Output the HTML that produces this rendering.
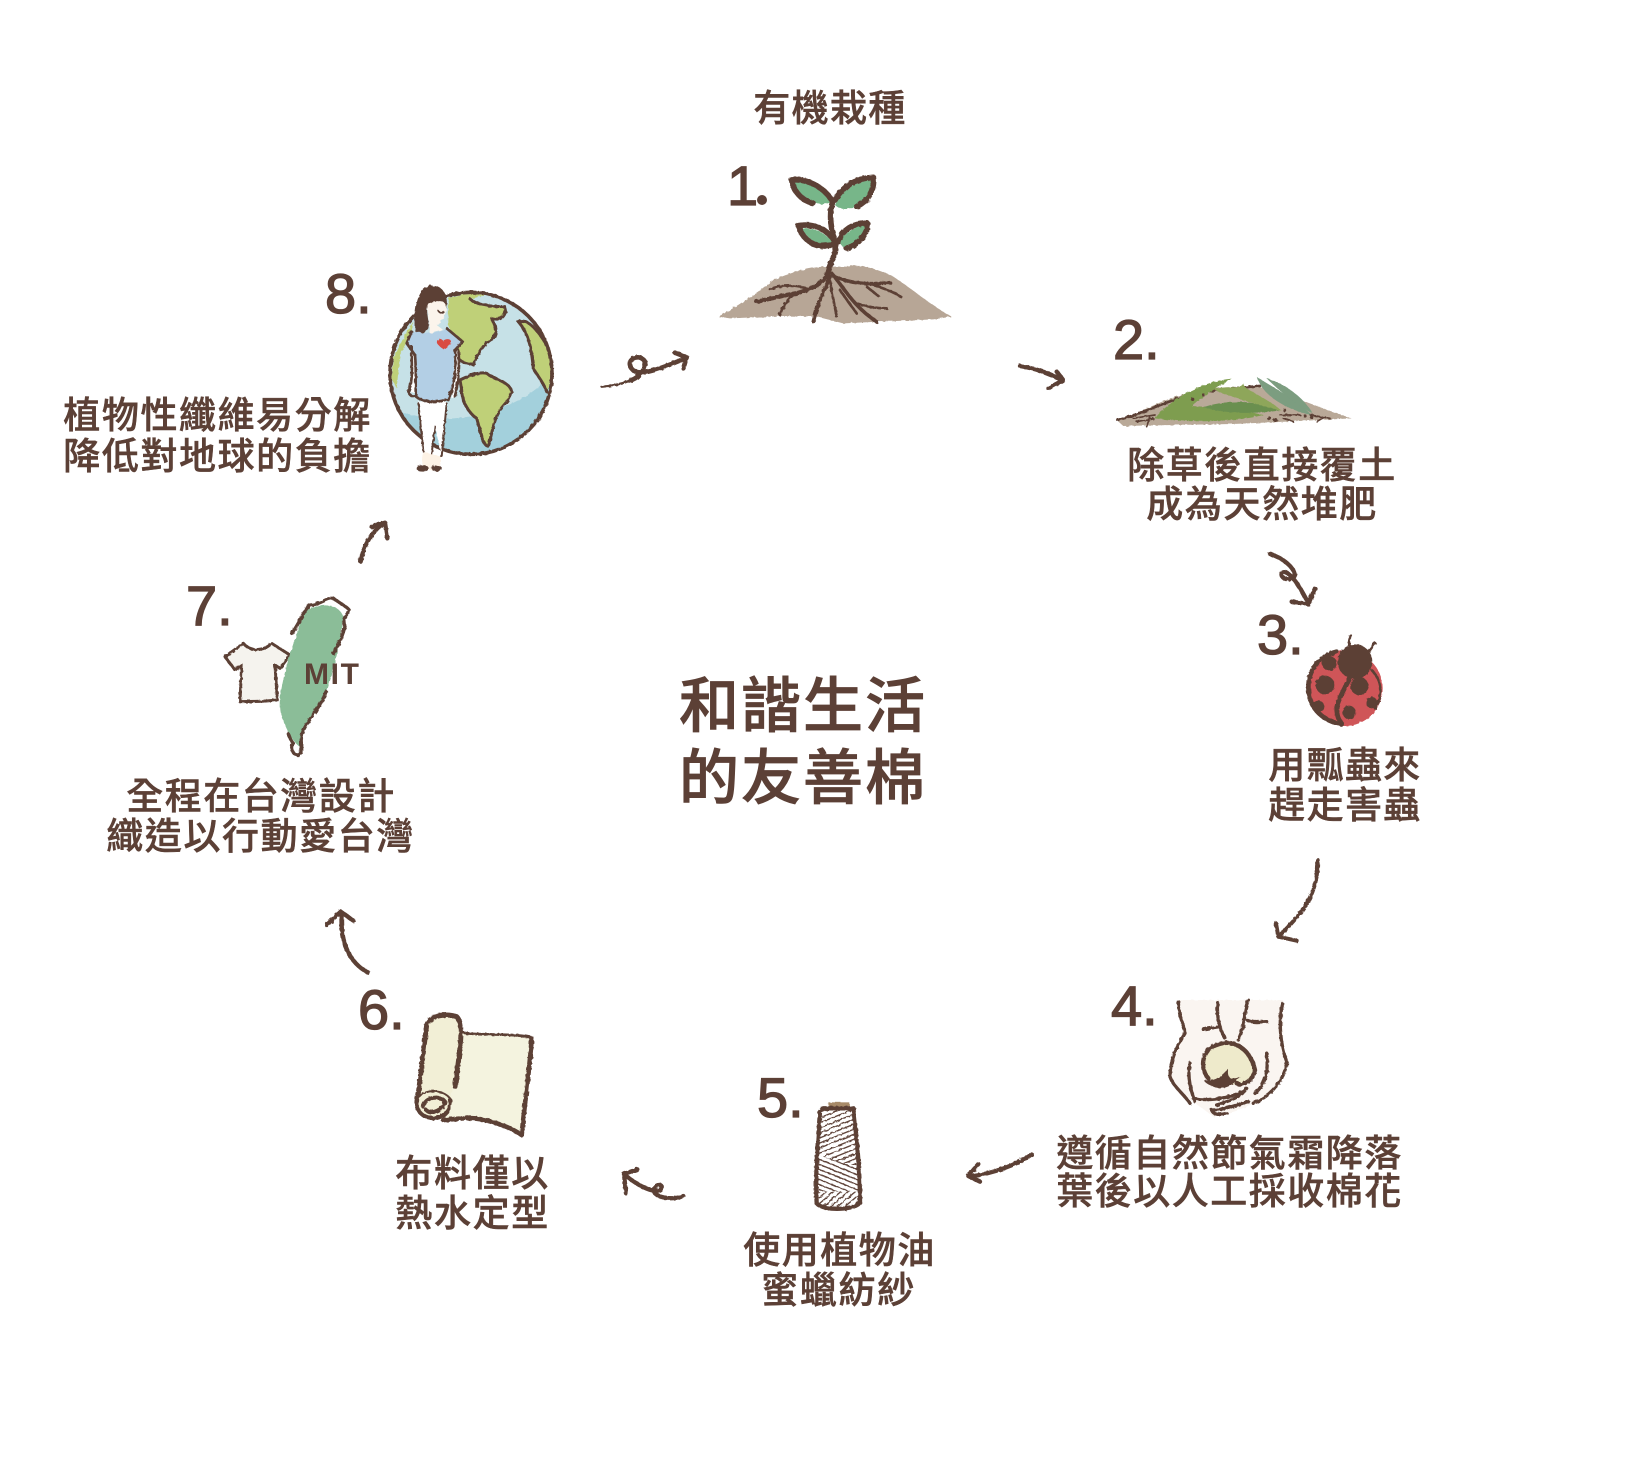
<!DOCTYPE html>
<html lang="zh-Hant"><head><meta charset="utf-8"><title>和諧生活的友善棉</title>
<style>
html,body{margin:0;padding:0;background:#fff;width:1641px;height:1467px;overflow:hidden}
svg{display:block}
.t{font-family:"Liberation Sans","Noto Sans CJK TC",sans-serif;font-weight:500;font-size:37px;fill:#5c4036;stroke:#5c4036;stroke-width:.5px}
.c{font-size:60px;stroke-width:.8px}
.n{font-family:"Liberation Sans",sans-serif;font-size:56px;fill:#5c4036;stroke:#5c4036;stroke-width:1.3px}
.s{fill:none;stroke:#5c4036;stroke-linecap:round;stroke-linejoin:round}
</style></head><body>
<svg width="1641" height="1467" viewBox="0 0 1641 1467" xmlns="http://www.w3.org/2000/svg">
<defs>
<filter id="r" x="-15%" y="-15%" width="130%" height="130%"><feTurbulence type="fractalNoise" baseFrequency="0.09" numOctaves="2" seed="4"/><feDisplacementMap in="SourceGraphic" scale="8"/></filter>
<pattern id="p1" width="14" height="14" patternUnits="userSpaceOnUse" patternTransform="rotate(-22)"><rect width="14" height="4" fill="#5c4036"/></pattern>
<pattern id="p2" width="14" height="14" patternUnits="userSpaceOnUse" patternTransform="rotate(22)"><rect width="14" height="4" fill="#5c4036"/></pattern>
<pattern id="p3" width="14" height="14" patternUnits="userSpaceOnUse" patternTransform="rotate(-40)"><rect width="14" height="4" fill="#5c4036"/></pattern>
<clipPath id="sp"><path d="M670,115 L760,115 C770,200 780,300 780,395 C775,420 670,425 650,400 C645,300 655,200 660,125Z"/></clipPath>
<clipPath id="ea"><circle cx="273" cy="295" r="243"/></clipPath>
</defs>
<rect width="1641" height="1467" fill="#fff"/>

<!-- center and labels -->
<g transform="translate(-.7,-1)">
<text class="t" x="754" y="122" textLength="152">有機栽種</text>
<text class="t" x="1128" y="479" textLength="268">除草後直接覆土</text>
<text class="t" x="1147" y="518" textLength="230">成為天然堆肥</text>
<text class="t" x="1269" y="779" textLength="152">用瓢蟲來</text>
<text class="t" x="1269" y="819" textLength="152">趕走害蟲</text>
<text class="t" x="1057" y="1167" textLength="345">遵循自然節氣霜降落</text>
<text class="t" x="1057" y="1205" textLength="345">葉後以人工採收棉花</text>
<text class="t" x="744" y="1264" textLength="191">使用植物油</text>
<text class="t" x="762" y="1304" textLength="153">蜜蠟紡紗</text>
<text class="t" x="396" y="1187" textLength="153">布料僅以</text>
<text class="t" x="396" y="1227" textLength="153">熱水定型</text>
<text class="t" x="127" y="810" textLength="268">全程在台灣設計</text>
<text class="t" x="107" y="850" textLength="307">織造以行動愛台灣</text>
<text class="t" x="64" y="429" textLength="307">植物性纖維易分解</text>
<text class="t" x="64" y="470" textLength="307">降低對地球的負擔</text>
</g>
<text class="t c" x="679" y="727" textLength="246">和諧生活</text>
<text class="t c" x="679" y="799" textLength="246">的友善棉</text>

<!-- numbers -->
<text class="n" x="727" y="205">1</text><circle cx="762" cy="200" r="5" fill="#5c4036"/>
<text class="n" x="1113" y="359">2.</text>
<text class="n" x="1257" y="654">3.</text>
<text class="n" x="1111" y="1025">4.</text>
<text class="n" x="757" y="1117">5.</text>
<text class="n" x="358" y="1029">6.</text>
<text class="n" x="186" y="625">7.</text>
<text class="n" x="325" y="313">8.</text>

<!-- 1 sprout -->
<g transform="translate(650,60) scale(.33333)"><g filter="url(#r)">
<path fill="#b7a696" d="M205,770 C260,740 320,700 370,660 C420,640 460,625 520,620 L590,620 C620,610 680,625 730,650 C790,690 850,740 905,770 L850,778 L690,785 L580,790 L500,770 L400,768 L240,775Z"/>
<path fill="#77b689" d="M430,365 C470,360 520,385 545,425 C520,440 480,430 455,410Z"/>
<path fill="#77b689" d="M555,435 C580,385 620,365 665,360 C670,395 640,430 600,445 C580,450 565,445 555,435Z"/>
<path fill="#77b689" d="M455,505 C490,500 530,520 550,550 C520,560 480,550 455,505Z"/>
<path fill="#77b689" d="M570,550 C585,515 615,500 645,497 C640,525 615,555 580,562Z"/>
<g class="s" stroke-width="17">
<path d="M545,420 C520,380 470,355 425,360 C430,390 450,420 490,430"/>
<path d="M555,420 C580,375 620,355 670,352 C675,395 650,425 620,440"/>
<path d="M555,545 C530,505 490,490 445,497 C455,530 480,555 515,558 L550,555"/>
<path d="M565,545 C580,505 610,490 652,490 C655,520 625,555 590,565"/>
<path d="M548,425 C535,470 545,510 555,550 C565,580 540,600 530,650"/>
</g>
<g class="s" stroke-width="8">
<path stroke-width="13" d="M535,640 C520,670 490,685 440,700 C400,705 350,720 320,725"/>
<path d="M470,685 C430,675 390,675 360,688"/><path d="M430,705 C410,720 395,745 390,765"/>
<path stroke-width="11" d="M540,650 C525,690 505,720 490,785"/><path d="M540,660 C545,700 555,740 560,770"/>
<path stroke-width="11" d="M545,640 C580,680 610,740 680,785"/><path stroke-width="11" d="M555,650 C600,670 650,675 720,668"/>
<path d="M670,675 C700,685 730,695 755,712"/><path d="M650,680 L685,708"/>
<path d="M570,690 C590,720 610,745 620,760"/><path d="M620,730 C650,740 680,745 710,745"/>
</g></g></g>

<!-- 2 grass -->
<g transform="translate(1000,300) scale(.33333)"><g filter="url(#r)">
<path fill="#b9a998" d="M350,360 C420,340 480,300 560,280 C620,262 700,260 770,260 C840,270 920,310 1055,355 L860,365 L700,372 L520,375 L370,378Z"/>
<path class="s" stroke-width="8" d="M352,360 C420,345 480,310 560,288 C620,270 700,265 780,258"/>
<path fill="#7e9d4f" d="M465,355 C510,300 600,245 695,236 C650,265 610,285 575,318 L700,325 L790,345 C700,368 560,368 465,355Z"/>
<path fill="#6b8f50" d="M610,322 C680,298 770,300 838,332 C760,342 680,342 610,322Z"/>
<path fill="#8ea65a" d="M640,268 C690,255 720,270 730,250 C730,270 790,285 845,332 C780,315 700,295 640,268Z"/>
<path fill="#7b9d80" d="M772,232 C820,262 890,300 935,345 C860,330 785,285 772,232Z"/>
<path fill="#7b9d80" d="M800,235 C850,250 905,285 940,342 C890,315 840,275 800,235Z"/>
<g class="s" stroke-width="5" stroke="#7a6a5c"><path d="M400,355 L465,345 M410,365 L460,355 M440,380 L450,350 M840,345 L900,345 M850,355 L880,365 M930,345 L990,355 M950,365 L975,350"/></g>
<g fill="#5c4036"><circle cx="578" cy="298" r="5"/><circle cx="610" cy="285" r="5"/><circle cx="808" cy="355" r="6"/><circle cx="826" cy="360" r="6"/><circle cx="855" cy="332" r="5"/><circle cx="915" cy="348" r="5"/><circle cx="935" cy="352" r="5"/></g>
</g></g>

<!-- 3 ladybug -->
<g transform="translate(1150,620) scale(.33333)"><g filter="url(#r)">
<circle cx="585" cy="205" r="113" fill="#cf5458"/>
<path class="s" stroke-width="14" d="M560,95 C500,110 470,160 476,215 C480,265 520,305 575,312"/>
<path class="s" stroke-width="8" d="M665,150 C695,180 700,230 675,265"/>
<circle cx="615" cy="125" r="52" fill="#5c4036"/>
<g fill="#5c4036"><circle cx="525" cy="195" r="28"/><circle cx="628" cy="198" r="27"/><circle cx="597" cy="277" r="20"/><circle cx="665" cy="248" r="17"/><circle cx="538" cy="130" r="22"/><circle cx="505" cy="260" r="18"/></g>
<g class="s" stroke-width="14"><path d="M600,175 C580,210 565,240 560,262 C560,285 565,300 575,310"/></g>
<g class="s" stroke-width="9"><path d="M600,85 C595,70 595,55 603,48"/><path d="M655,95 C665,85 668,75 675,70"/></g>
</g></g>

<!-- 4 hands -->
<g transform="translate(950,970) scale(.33333)"><g filter="url(#r)">
<path fill="#faf5f1" d="M685,90 L1000,90 L1000,250 L1010,300 C990,370 900,420 790,440 C740,400 680,370 660,320 C660,260 700,200 700,170Z"/>
<path fill="#eeeacb" d="M775,325 C745,290 760,235 800,225 C850,205 900,235 915,300 C910,330 880,350 860,340 L820,350Z"/>
<g class="s" stroke-width="10">
<path d="M685,95 C685,140 705,170 705,190 C680,230 660,270 660,320 C670,350 700,370 720,400"/>
<path d="M803,98 C800,130 805,170 825,205"/><path d="M760,178 C780,175 800,170 810,170"/>
<path d="M895,90 C880,120 890,155 865,210"/><path d="M892,150 C910,160 930,155 950,155"/>
<path d="M998,102 C985,150 990,220 1010,275 C1005,330 960,380 910,400"/>
<path d="M730,385 C780,395 830,385 880,365"/><path d="M720,280 C710,320 725,370 735,395"/>
<path d="M950,250 C955,300 950,340 915,370"/><path d="M785,420 C830,420 870,400 895,395"/>
<path d="M800,405 C830,395 870,385 890,355"/><path d="M785,420 C790,435 810,435 830,430"/>
<path stroke-width="13" d="M775,325 C745,290 760,235 800,225 C850,205 900,235 915,300 C910,330 880,350 860,340"/>
</g>
<path fill="#5c4036" d="M760,330 C790,335 810,325 835,295 C830,320 840,335 870,320 C850,345 830,355 810,355 C790,350 770,345 760,330Z"/>
</g></g>

<!-- 5 spool -->
<g transform="translate(600,1070) scale(.33333)"><g filter="url(#r)">
<rect x="685" y="97" width="63" height="22" fill="#a78a68"/>
<path fill="#fff" d="M670,115 L760,115 C770,200 780,300 780,395 C775,420 670,425 650,400 C645,300 655,200 660,125Z"/>
<g clip-path="url(#sp)">
<rect x="640" y="115" width="150" height="170" fill="url(#p1)"/>
<path fill="#fff" d="M640,285 L790,285 L790,300 L640,250Z"/>
<path fill="url(#p2)" d="M640,250 L790,300 L790,365 L640,365Z"/>
<rect x="640" y="365" width="150" height="60" fill="url(#p3)"/>
</g>
<path class="s" stroke-width="13" d="M670,115 L760,115 C770,200 780,300 780,395 C775,420 670,425 650,400 C645,300 655,200 660,125Z"/>
</g></g>

<!-- 6 scroll -->
<g transform="translate(320,900) scale(.33333)"><g filter="url(#r)">
<path fill="#f4f3df" d="M420,395 C480,405 560,400 635,415 C630,500 615,600 605,708 C570,680 490,650 430,655 L360,655Z"/>
<path class="s" stroke-width="8" d="M430,398 C480,408 560,398 635,412"/>
<path class="s" stroke-width="14" d="M635,415 C630,500 615,600 605,705 C570,680 490,650 430,655 L370,660"/>
<path fill="#f2efd6" d="M320,370 C330,345 380,340 410,350 C430,370 425,420 415,470 C405,520 395,570 390,610 C385,650 320,665 295,640 C280,620 285,590 295,570Z"/>
<path class="s" stroke-width="15" d="M295,580 L320,375 C330,345 380,340 410,350 C430,370 425,420 405,560"/>
<g class="s"><path stroke-width="12" d="M295,580 C280,620 295,650 340,655 C375,655 395,620 390,600"/><path stroke-width="6" d="M300,590 C320,565 370,570 390,595"/><path stroke-width="12" d="M310,620 C315,590 360,585 375,605 C370,630 335,645 318,630"/></g>
</g></g>

<!-- 7 tshirt + taiwan -->
<g transform="translate(90,510) scale(.33333)"><g filter="url(#r)">
<path fill="#f5f3ee" d="M405,440 L460,400 C480,425 520,425 545,400 L600,435 L570,475 L555,465 L562,570 C520,575 490,575 450,575 L455,465 L435,480Z"/>
<path class="s" stroke-width="9" d="M405,440 L460,400 C480,425 520,425 545,400 L600,435 L570,475 L555,465 L562,570 C520,575 490,575 450,575 L455,465 L435,480Z"/>
<path fill="#8bbd98" d="M650,300 C690,280 745,278 760,320 C755,370 745,430 712,540 C690,590 640,640 630,710 C612,700 588,660 572,610 C558,570 598,430 618,380 C628,340 640,320 650,300Z"/>
<g class="s" stroke-width="10">
<path d="M605,370 C630,340 640,300 660,285 C690,285 710,262 730,265 C750,280 770,290 778,300 C770,320 755,320 765,350 C755,385 745,410 730,430"/>
<path d="M708,545 C690,600 640,640 635,680 C630,700 640,730 625,735 C605,735 600,710 610,700 C600,690 600,680 595,672"/>
</g></g></g>
<text x="304" y="684" font-family="Liberation Sans,sans-serif" font-weight="700" font-size="30" fill="#5c4036" textLength="55">MIT</text>

<!-- 8 earth + girl -->
<g transform="translate(380,275) scale(.33333)"><g filter="url(#r)">
<circle cx="273" cy="295" r="243" fill="#c6e1e7"/>
<g clip-path="url(#ea)"><path fill="#a3d0dc" d="M60,410 C200,460 400,420 510,305 L540,560 L60,560Z"/></g>
<path fill="#bfd078" d="M205,70 C240,55 290,55 320,60 L270,72 C290,90 330,95 375,95 C380,115 370,140 335,130 C345,150 355,170 340,190 C310,205 290,240 280,270 C265,265 250,265 240,255 C235,220 215,190 205,150Z"/>
<path fill="#bfd078" d="M240,315 C270,300 300,290 320,295 C345,315 390,320 395,350 C390,380 365,390 355,415 C340,440 335,480 325,515 C305,510 300,460 290,430 C260,410 245,370 245,345Z"/>
<path fill="#bfd078" d="M415,140 C440,130 470,160 500,210 C520,260 515,320 500,350 C490,320 470,300 460,280 C455,230 450,180 415,140Z"/>
<path fill="#bfd078" d="M40,250 L80,170 L100,140 L95,170 L60,240 L50,340 L35,310Z"/>
<g class="s" stroke-width="9">
<path d="M270,72 C290,90 330,95 375,95 C380,115 370,140 335,130 C345,150 355,170 340,190 C310,205 290,240 280,270 C265,265 250,265 240,255"/>
<path d="M240,315 C270,300 300,290 320,295 C345,315 390,320 395,350 C390,380 365,390 355,415 C340,440 335,480 325,515 C305,510 300,460 290,430 C260,410 245,370 245,345 L240,315"/>
<path d="M415,140 C440,130 470,160 500,210"/><path d="M460,280 C455,230 450,180 415,140"/><path d="M460,280 C470,300 490,320 500,350"/>
<circle cx="273" cy="295" r="243" stroke-width="11"/>
</g>
<path fill="#fff" d="M115,380 L130,530 L155,535 L165,455 L185,545 L200,380Z"/>
<path fill="#fdf2e5" d="M130,530 L185,545 L178,585 L125,585Z"/>
<path fill="#fbf4ec" d="M140,85 C160,70 190,75 198,72 C205,100 195,135 170,150 L190,165 L150,175 L145,130Z"/>
<path fill="#5c4036" d="M105,170 C100,110 110,40 150,32 C190,30 205,60 200,100 C195,70 175,78 145,85 C135,110 150,140 145,160 C135,175 115,180 105,170Z"/>
<path fill="#b3cfe5" d="M95,170 C130,175 170,180 200,160 L248,200 L225,225 L222,330 C215,370 190,380 160,382 C130,380 110,370 108,350 L105,240 L80,205Z"/>
<path fill="#fff" d="M225,225 L235,225 C240,270 235,320 225,365 L215,370Z"/>
<path fill="#fff" d="M92,220 L105,240 L108,350 L90,355 C100,310 95,270 92,220Z"/>
<path fill="#d94b43" d="M190,222 C170,210 165,195 178,193 C185,192 190,198 190,198 C195,190 215,190 213,202 C210,212 200,220 190,225Z"/>
<g class="s" stroke-width="8">
<path d="M95,215 C95,270 100,320 85,350 C90,365 100,365 108,360"/><path d="M105,240 C110,290 105,350 108,365 C130,382 180,385 205,370"/>
<path d="M225,225 C230,280 225,320 205,375"/><path d="M235,225 C240,270 235,320 225,365"/>
<path d="M200,160 L248,200 L225,225"/><path d="M95,170 L80,205 L105,240"/>
<path stroke-width="6" d="M115,385 L130,530"/><path stroke-width="6" d="M155,535 L165,455"/><path stroke-width="6" d="M185,545 L200,385"/>
<path stroke-width="5" d="M175,108 C180,115 185,115 190,110"/>
</g>
<ellipse cx="128" cy="580" rx="18" ry="10" fill="#5c4036"/><ellipse cx="170" cy="580" rx="16" ry="9" fill="#5c4036"/>
</g></g>

<!-- arrows -->
<g transform="translate(590,340) scale(.33333)"><g class="s" filter="url(#r)" stroke-width="14">
<path stroke-width="7" d="M35,140 C70,138 100,130 125,120"/>
<path d="M125,120 C140,115 170,90 165,65 C150,40 115,55 120,75 C130,110 170,105 285,55"/><path d="M255,38 L290,52 L280,85"/>
</g></g>
<g transform="translate(1000,300) scale(.33333)"><g class="s" filter="url(#r)" stroke-width="13">
<path d="M60,198 C100,205 140,215 185,240"/><path d="M170,215 L190,240 L145,265"/>
<path d="M810,762 C850,775 880,800 885,825 C880,845 840,840 845,820 C860,805 890,840 925,910"/><path d="M945,865 L925,912 L875,905"/>
</g></g>
<g transform="translate(1150,620) scale(.33333)"><g class="s" filter="url(#r)" stroke-width="12">
<path d="M503,720 C505,800 480,860 385,950"/><path d="M378,910 L385,950 L440,962"/>
</g></g>
<g transform="translate(950,970) scale(.33333)"><g class="s" filter="url(#r)" stroke-width="13">
<path d="M245,553 C200,585 130,610 60,620"/><path d="M85,582 L55,618 L90,635"/>
</g></g>
<g transform="translate(600,1070) scale(.33333)"><g class="s" filter="url(#r)" stroke-width="13">
<path d="M250,378 C220,390 180,385 165,370 C150,350 185,335 185,352 C180,375 130,360 75,315"/><path d="M112,298 L72,312 L78,370"/>
</g></g>
<g transform="translate(320,900) scale(.33333)"><g class="s" filter="url(#r)" stroke-width="13">
<path d="M145,218 C90,190 60,130 65,40"/><path d="M20,75 L62,35 L100,62"/>
</g></g>
<g transform="translate(90,510) scale(.33333)"><g class="s" filter="url(#r)" stroke-width="13">
<path d="M812,155 C820,110 840,70 880,40"/><path d="M845,50 L885,38 L892,85"/>
</g></g>
</svg>
</body></html>
